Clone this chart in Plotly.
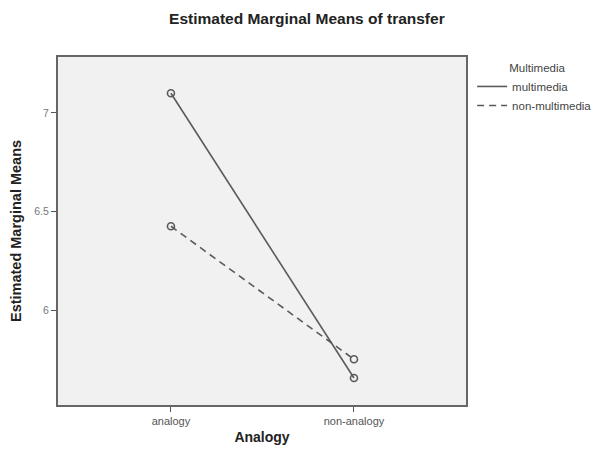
import plotly.graph_objects as go

categories = ["analogy", "non-analogy"]
multimedia = [7.10, 5.655]
non_multimedia = [6.425, 5.75]
y_ticks = [6, 6.5, 7]
y_tick_labels = ["6", "6.5", "7"]

line_color = "#5a5a5a"
text_color = "#444444"
font_family = "Liberation Sans, Arial, sans-serif"

fig = go.Figure()

series = [
    ("multimedia", multimedia, "solid"),
    ("non-multimedia", non_multimedia, "7px,5px"),
]
for name, vals, dash in series:
    fig.add_trace(go.Scatter(
        x=categories, y=vals, mode="lines", name=name,
        line=dict(color=line_color, width=1.6, dash=dash),
    ))
    fig.add_trace(go.Scatter(
        x=categories, y=vals, mode="markers", showlegend=False,
        marker=dict(symbol="circle-open", size=7, color=line_color,
                    line=dict(width=1.6, color=line_color)),
        hoverinfo="skip",
    ))

fig.update_layout(
    width=596, height=453,
    margin=dict(l=58, r=130, t=57, b=48, autoexpand=False),
    paper_bgcolor="white",
    plot_bgcolor="#f1f1f1",
    font=dict(family=font_family, color=text_color, size=11),
    title=dict(text="<b>Estimated Marginal Means of transfer</b>",
               x=0.61, xanchor="center", y=0.958, yanchor="middle", xref="paper",
               font=dict(size=15.5, color="#222222")),
    legend=dict(
        x=1.015, xanchor="left", y=1.0, yanchor="top",
        title=dict(text="           Multimedia", font=dict(size=11.5, color=text_color), side="top"),
        font=dict(size=11.5, color=text_color),
        bgcolor="rgba(0,0,0,0)",
        itemwidth=30, tracegroupgap=0,
    ),
    showlegend=True,
)

fig.update_xaxes(
    type="category", range=[-0.617, 1.612], automargin=False,
    showgrid=False, zeroline=False,
    showline=True, linecolor="#666666", linewidth=2, mirror=True,
    ticks="outside", ticklen=5, tickwidth=1, tickcolor="#555555",
    tickfont=dict(size=11, color="#555555"),
    title=dict(text="<b>Analogy</b>", font=dict(size=14, color="#222222"), standoff=6),
)
fig.update_yaxes(
    range=[5.518, 7.284], automargin=False,
    tickvals=y_ticks, ticktext=y_tick_labels,
    showgrid=False, zeroline=False,
    showline=True, linecolor="#666666", linewidth=2, mirror=True,
    ticks="outside", ticklen=5, tickwidth=1, tickcolor="#555555",
    tickfont=dict(size=10.5, color="#777777"),
    title=dict(text="<b>Estimated Marginal Means</b>", font=dict(size=14.5, color="#222222"), standoff=9),
)

fig.write_html("out.html", config={"displayModeBar": False},
               post_script="document.body.style.margin='0';")
